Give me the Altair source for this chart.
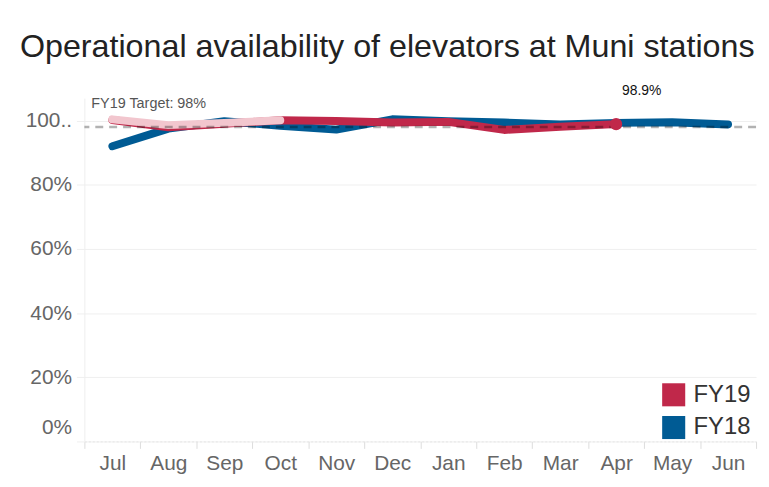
import altair as alt
import pandas as pd

months = ["Jul", "Aug", "Sep", "Oct", "Nov", "Dec", "Jan", "Feb", "Mar", "Apr", "May", "Jun"]
fy18 = [92.0, 97.5, 99.8, 98.4, 97.2, 100.4, 99.8, 99.4, 98.8, 99.3, 99.5, 98.8]
fy19 = [100.2, 97.9, 99.0, 100.1, 99.9, 99.4, 99.6, 97.1, 98.1, 98.9]
fy19_early = [100.4, 98.6, 99.3, 100.1]
early_months = months[:4]
target = 98
target_label = "FY19 Target: 98%"
latest_label = "98.9%"
title = "Operational availability of elevators at Muni stations"
years = ["FY19", "FY18"]

RED = "#c0284a"
BLUE = "#005b94"
PINK = "#f2c6ce"
FONT = "Liberation Sans"

rows = [{"month": m, "value": v, "year": "FY18"} for m, v in zip(months, fy18)]
rows += [{"month": m, "value": v, "year": "FY19"} for m, v in zip(months, fy19)]
df = pd.DataFrame(rows)
df18 = df[df.year == "FY18"]
df19 = df[df.year == "FY19"]
early = pd.DataFrame({"month": early_months, "value": fy19_early})
last = df19.tail(1).assign(label=latest_label)
legdf = pd.DataFrame({"year": years})

xscale = alt.Scale(type="band", domain=months, paddingInner=0, paddingOuter=0)
yscale = alt.Scale(domain=[0, 107], nice=False, zero=True)
cscale = alt.Scale(domain=years, range=[RED, BLUE])

x = alt.X("month:N", scale=xscale, sort=months, bandPosition=0.5,
          axis=alt.Axis(title=None, labelAngle=0, labelFontSize=21, labelColor="#666",
                        labelFont=FONT, tickBand="extent", tickColor="#ddd", tickSize=7,
                        domainColor="#e6e6e6", domainDash=[2, 2], labelPadding=4, grid=False))
y = alt.Y("value:Q", scale=yscale,
          axis=alt.Axis(title=None, values=[0, 20, 40, 60, 80, 100],
                        labelExpr="datum.value == 100 ? '100..' : datum.value + '%'",
                        labelFontSize=21, labelColor="#666", labelFont=FONT,
                        gridColor="#efefef", tickColor="#efefef", tickSize=8,
                        domainColor="#eeeeee", labelPadding=5,
                        labelFlush=True, labelFlushOffset=-4))
xp = alt.X("month:N", scale=xscale, sort=months, bandPosition=0.5)
yp = alt.Y("value:Q", scale=yscale)

legend_layer = alt.Chart(legdf).mark_square(filled=True, clip=True, opacity=1).encode(
    x=alt.value(-200), y=alt.value(-200),
    color=alt.Color("year:N", scale=cscale,
                    legend=alt.Legend(title=None, orient="none", legendX=582, legendY=287,
                                      symbolType="square", symbolSize=540, symbolStrokeWidth=0,
                                      labelFontSize=24, labelColor="#333", labelFont=FONT,
                                      rowPadding=9, labelOffset=8)))

line_blue = alt.Chart(df18).mark_line(strokeWidth=8, strokeCap="round", strokeJoin="round").encode(
    x=x, y=y, color=alt.Color("year:N", scale=cscale, legend=None))
line_red = alt.Chart(df19).mark_line(strokeWidth=8, strokeCap="round", strokeJoin="round").encode(
    x=xp, y=yp, color=alt.Color("year:N", scale=cscale, legend=None))
line_pink = alt.Chart(early).mark_line(strokeWidth=8, strokeCap="round", strokeJoin="round", color=PINK).encode(
    x=xp, y=yp)
dot = alt.Chart(last).mark_circle(size=150, opacity=1, color=RED).encode(x=xp, y=yp)
dot_text = alt.Chart(last).mark_text(align="left", baseline="middle", dx=6, dy=-33,
                                     fontSize=14, font=FONT, color="#111").encode(
    x=xp, y=yp, text="label:N")

tdf = pd.DataFrame({"value": [target], "month": ["Jul"], "label": [target_label]})
rule = alt.Chart(tdf).mark_rule(color="#000", opacity=0.3, strokeWidth=2.5, strokeDash=[8, 6]).encode(
    y=yp)
ttext = alt.Chart(tdf).mark_text(align="left", baseline="middle", dx=7, dy=-23,
                                 fontSize=14.5, font=FONT, color="#555").encode(
    x=alt.X("month:N", scale=xscale, sort=months, bandPosition=0),
    y=yp, text="label:N")

chart = alt.layer(legend_layer, line_blue, line_red, line_pink, rule, dot, dot_text, ttext).properties(
    width=677, height=346,
    autosize=alt.AutoSizeParams(type="none"),
    padding={"left": 77, "top": 89, "right": 5, "bottom": 36},
    title=alt.TitleParams(title, anchor="start", frame="group", dx=-65, offset=21,
                          fontSize=32.5, font=FONT, fontWeight="normal", color="#222"),
    background="white",
).configure_view(stroke=None)

chart.save("out.html", embed_options={"renderer": "svg", "actions": False})
